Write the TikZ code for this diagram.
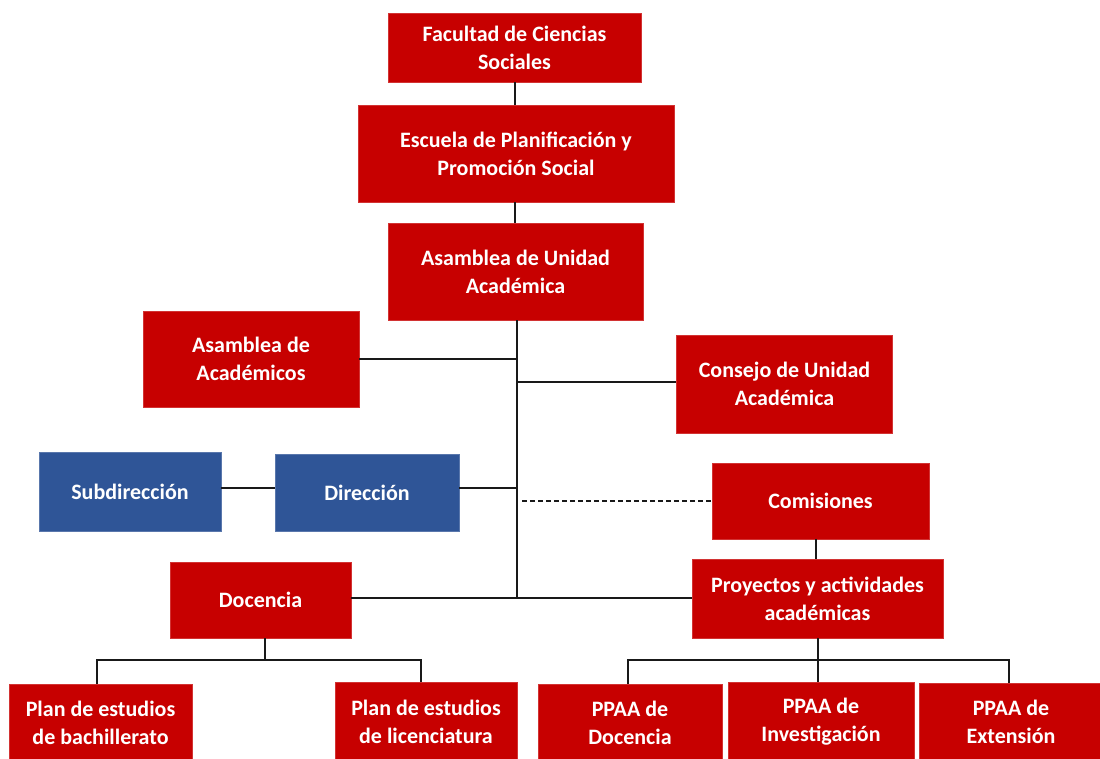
\documentclass[tikz,border=0pt]{standalone}
\usepackage{fontspec}
\setmainfont{Carlito}
\definecolor{boxred}{RGB}{199,0,0}
\definecolor{boxblue}{RGB}{47,85,151}
\definecolor{linegray}{RGB}{25,25,25}
\begin{document}
\begin{tikzpicture}[x=1pt,y={(0pt,-1pt)},
  box/.style={fill=boxred, draw=boxred!80!white, line width=0.6pt, text=white, align=center, inner sep=0pt,
    font=\bfseries\fontsize{22}{28}\selectfont},
  bluebox/.style={box, fill=boxblue, draw=boxblue!80!white},
  conn/.style={draw=linegray, line width=1.6pt},
  dashconn/.style={conn, dashed, dash pattern=on 5pt off 3pt}]
\useasboundingbox (0,0) rectangle (1100,758);
\clip (0,0) rectangle (1100,758);
% nodes
\node[box, minimum width=253pt, minimum height=69pt] (fac) at (514.5,47.5) {Facultad de Ciencias\\Sociales};
\node[box, minimum width=316pt, minimum height=97pt] (esc) at (516,153.5) {Escuela de Planificación y\\Promoción Social};
\node[box, minimum width=255pt, minimum height=97pt] (aua) at (515.5,271.5) {Asamblea de Unidad\\Académica};
\node[box, minimum width=216pt, minimum height=96pt] (aac) at (251,359) {Asamblea de\\Académicos};
\node[box, minimum width=216pt, minimum height=98pt] (con) at (784.5,384) {Consejo de Unidad\\Académica};
\node[bluebox, minimum width=182pt, minimum height=79pt] (sub) at (130,491.5) {Subdirección};
\node[bluebox, minimum width=184pt, minimum height=77pt] (dir) at (367,492.5) {Dirección};
\node[box, minimum width=217pt, minimum height=76pt] (com) at (820.5,501) {Comisiones};
\node[box, minimum width=251pt, minimum height=79pt] (pro) at (817.5,598.5) {Proyectos y actividades\\académicas};
\node[box, minimum width=181pt, minimum height=76pt] (doc) at (260.5,600) {Docencia};
\node[box, minimum width=183pt, minimum height=78pt] (pb) at (100.5,723) {Plan de estudios\\de bachillerato};
\node[box, minimum width=182pt, minimum height=80pt] (pl) at (426,722) {Plan de estudios\\de licenciatura};
\node[box, minimum width=184pt, minimum height=78pt] (pd) at (630,723) {PPAA de\\Docencia};
\node[box, minimum width=186pt, minimum height=80pt] (pi) at (821,722) {PPAA de\\Investigación};
\node[box, minimum width=184pt, minimum height=78pt] (pe) at (1011,722) {PPAA de\\Extensión};
% junction coordinates
\coordinate (top) at (515,0);
\coordinate (tbot) at (517,598);
\coordinate (tcon) at (517,382);
\coordinate (dstart) at (522,501);
\coordinate (dj) at (265,660);
\coordinate (pj) at (818,660);
% connectors
\draw[conn] (fac.south -| top) -- (esc.north -| top);
\draw[conn] (esc.south -| top) -- (aua.north -| top);
\draw[conn] (aua.south -| tbot) -- (tbot);
\draw[conn] (aac.east) -- (aac.east -| tbot);
\draw[conn] (tcon) -- (tcon -| con.west);
\draw[conn] (sub.east |- 0,488) -- (dir.west |- 0,488);
\draw[conn] (dir.east |- 0,488) -- (tbot |- 0,488);
\draw[dashconn] (dstart) -- (dstart -| com.west);
\draw[conn] (com.south -| 816,0) -- (pro.north -| 816,0);
\draw[conn] (doc.east |- tbot) -- (pro.west |- tbot);
\draw[conn] (doc.south -| dj) -- (dj);
\draw[conn] (pb.north -| 97,0) |- (dj) -| (pl.north -| 421,0);
\draw[conn] (pro.south -| pj) -- (pj);
\draw[conn] (pd.north -| 628,0) |- (pj) -| (pe.north -| 1009,0);
\draw[conn] (pj) -- (pi.north -| pj);
\end{tikzpicture}
\end{document}
